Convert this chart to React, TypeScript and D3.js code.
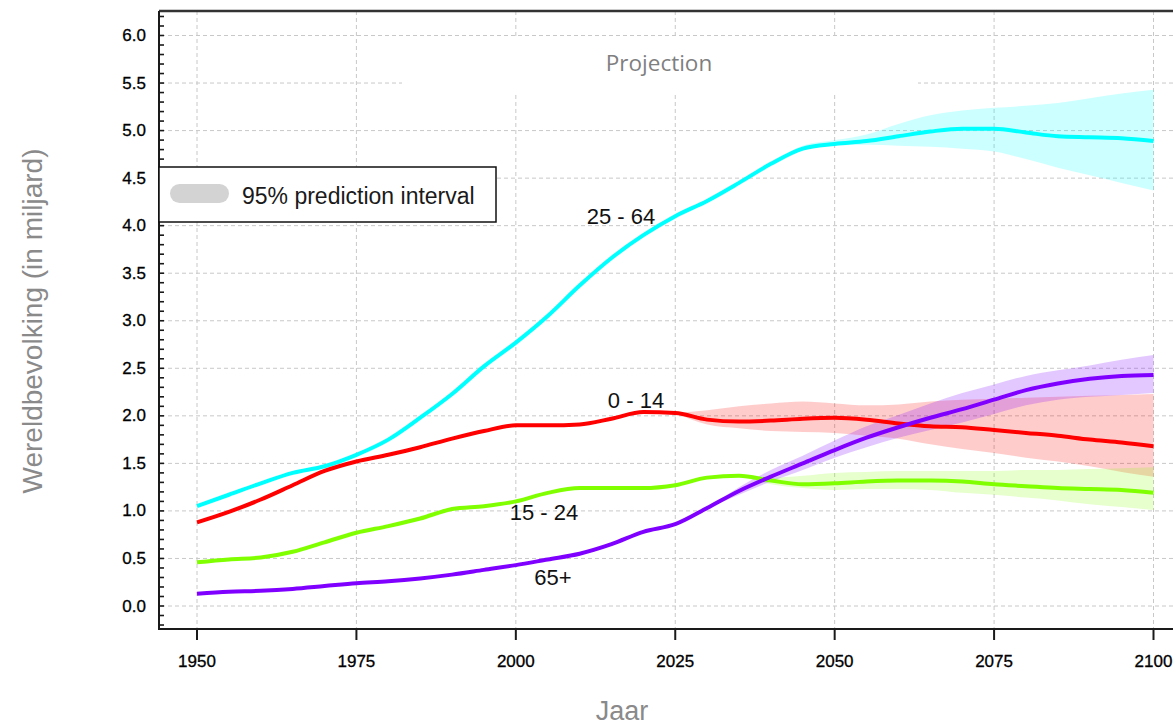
import React from "react";
import * as d3 from "d3";

// Years for the main series (historical + projection)
const years = [
  1950, 1955, 1960, 1965, 1970, 1975, 1980, 1985, 1990, 1995, 2000, 2005, 2010,
  2015, 2020, 2025, 2030, 2035, 2040, 2045, 2050, 2055, 2060, 2065, 2070, 2075,
  2080, 2085, 2090, 2095, 2100,
];

// Population per age group, in billions
const age25to64 = [
  1.05, 1.17, 1.29, 1.4, 1.47, 1.59, 1.75, 1.98, 2.23, 2.52, 2.77, 3.05, 3.37,
  3.66, 3.9, 4.1, 4.26, 4.45, 4.65, 4.81, 4.86, 4.89, 4.94, 4.99, 5.02, 5.02,
  4.98, 4.94, 4.93, 4.92, 4.89,
];
const age0to14 = [
  0.88, 0.99, 1.12, 1.27, 1.42, 1.52, 1.59, 1.67, 1.76, 1.84, 1.9, 1.9, 1.91,
  1.97, 2.04, 2.03, 1.96, 1.94, 1.95, 1.97, 1.98, 1.96, 1.92, 1.89, 1.88, 1.85,
  1.82, 1.79, 1.75, 1.72, 1.68,
];
const age15to24 = [
  0.46, 0.49, 0.51, 0.57, 0.67, 0.77, 0.84, 0.92, 1.02, 1.05, 1.1, 1.19, 1.24,
  1.24, 1.24, 1.27, 1.35, 1.37, 1.32, 1.28, 1.29, 1.31, 1.32, 1.32, 1.31, 1.28,
  1.26, 1.24, 1.23, 1.22, 1.19,
];
const age65plus = [
  0.13, 0.15, 0.16, 0.18, 0.21, 0.24, 0.26, 0.29, 0.33, 0.38, 0.43, 0.49, 0.55,
  0.65, 0.78, 0.86, 1.03, 1.21, 1.36, 1.5, 1.64, 1.77, 1.88, 1.98, 2.07, 2.17,
  2.27, 2.34, 2.39, 2.42, 2.43,
];

// 95% prediction intervals
const cyanBandYears = [2040, 2045, 2050, 2055, 2060, 2065, 2070, 2075, 2080, 2085, 2090, 2095, 2100];
const cyanBandHigh = [4.65, 4.84, 4.9, 4.96, 5.07, 5.16, 5.21, 5.24, 5.26, 5.29, 5.34, 5.39, 5.43];
const cyanBandLow = [4.65, 4.79, 4.84, 4.85, 4.84, 4.83, 4.81, 4.78, 4.7, 4.61, 4.53, 4.45, 4.37];

const redBandYears = [2025, 2030, 2035, 2040, 2045, 2050, 2055, 2060, 2065, 2070, 2075, 2080, 2085, 2090, 2095, 2100];
const redBandHigh = [2.03, 2.06, 2.1, 2.13, 2.15, 2.13, 2.11, 2.12, 2.15, 2.17, 2.18, 2.19, 2.2, 2.21, 2.22, 2.23];
const redBandLow = [2.03, 1.91, 1.87, 1.84, 1.83, 1.82, 1.79, 1.76, 1.7, 1.65, 1.61, 1.56, 1.52, 1.47, 1.41, 1.36];

const greenBandYears = [2035, 2040, 2045, 2050, 2055, 2060, 2065, 2070, 2075, 2080, 2085, 2090, 2095, 2100];
const greenBandHigh = [1.37, 1.35, 1.37, 1.4, 1.41, 1.42, 1.42, 1.42, 1.42, 1.43, 1.43, 1.44, 1.45, 1.46];
const greenBandLow = [1.37, 1.28, 1.24, 1.22, 1.23, 1.23, 1.22, 1.19, 1.17, 1.14, 1.11, 1.07, 1.04, 1.01];

const purpleBandYears = [2030, 2035, 2040, 2045, 2050, 2055, 2060, 2065, 2070, 2075, 2080, 2085, 2090, 2095, 2100];
const purpleBandHigh = [1.03, 1.25, 1.43, 1.58, 1.74, 1.89, 2.01, 2.13, 2.24, 2.33, 2.42, 2.48, 2.53, 2.59, 2.64];
const purpleBandLow = [1.03, 1.17, 1.31, 1.43, 1.56, 1.67, 1.77, 1.85, 1.93, 2.02, 2.11, 2.17, 2.2, 2.22, 2.24];

const xTicks = [1950, 1975, 2000, 2025, 2050, 2075, 2100];
const yTicks = [0, 0.5, 1, 1.5, 2, 2.5, 3, 3.5, 4, 4.5, 5, 5.5, 6];
const yMinorTicks = d3.range(-2, 63).map((i) => i / 10);

const W = 1173;
const H = 727;
const plotLeft = 159;
const plotTop = 11;
const plotBottom = 629;
const plotRight = 1190;

const x = d3.scaleLinear().domain([1950, 2100]).range([197, 1153.5]);
const y = d3.scaleLinear().domain([0, 6]).range([606, 35.5]);

type Series = { name: string; values: number[]; color: string };
const series: Series[] = [
  { name: "25 - 64", values: age25to64, color: "#00ffff" },
  { name: "0 - 14", values: age0to14, color: "#ff0000" },
  { name: "15 - 24", values: age15to24, color: "#80ff00" },
  { name: "65+", values: age65plus, color: "#8000ff" },
];

type Band = { yrs: number[]; hi: number[]; lo: number[]; fill: string; opacity: number };
const bands: Band[] = [
  { yrs: cyanBandYears, hi: cyanBandHigh, lo: cyanBandLow, fill: "#00ffff", opacity: 0.2 },
  { yrs: redBandYears, hi: redBandHigh, lo: redBandLow, fill: "#ff0000", opacity: 0.2 },
  { yrs: greenBandYears, hi: greenBandHigh, lo: greenBandLow, fill: "#80ff00", opacity: 0.2 },
  { yrs: purpleBandYears, hi: purpleBandHigh, lo: purpleBandLow, fill: "#8000ff", opacity: 0.22 },
];

const line = d3
  .line<[number, number]>()
  .x((d) => x(d[0]))
  .y((d) => y(d[1]))
  .curve(d3.curveMonotoneX);

const area = d3
  .area<[number, number, number]>()
  .x((d) => x(d[0]))
  .y0((d) => y(d[2]))
  .y1((d) => y(d[1]))
  .curve(d3.curveMonotoneX);

const tickFont = "'Liberation Sans', Arial, sans-serif";

export default function App() {
  return (
    <svg
      width={W}
      height={H}
      style={{ position: "absolute", left: 0, top: 0, background: "#fff" }}
    >
      <rect x={0} y={0} width={W} height={H} fill="#fff" />

      {/* grid */}
      <g stroke="#c8c8c8" strokeWidth={1} strokeDasharray="4,3">
        {yTicks.map((t) => (
          <line key={"gy" + t} x1={plotLeft + 2} x2={plotRight} y1={y(t)} y2={y(t)} />
        ))}
        {xTicks.map((t) => (
          <line key={"gx" + t} x1={x(t)} x2={x(t)} y1={plotTop} y2={plotBottom} />
        ))}
      </g>

      {/* white label box behind the projection annotation */}
      <rect x={402} y={38} width={516} height={54} fill="#fff" />
      <text
        x={659}
        y={71}
        textAnchor="middle"
        fontFamily="'Open Sans', 'Noto Sans', sans-serif"
        fontSize={22.5}
        fill="#7f7f7f"
      >
        Projection
      </text>

      {/* prediction intervals */}
      {bands.map((b, i) => (
        <path
          key={"band" + i}
          d={area(b.yrs.map((yr, j) => [yr, b.hi[j], b.lo[j]] as [number, number, number])) || ""}
          fill={b.fill}
          fillOpacity={b.opacity}
        />
      ))}

      {/* series lines */}
      {series.map((s) => (
        <path
          key={s.name}
          d={line(years.map((yr, j) => [yr, s.values[j]] as [number, number])) || ""}
          fill="none"
          stroke={s.color}
          strokeWidth={4}
          strokeLinejoin="round"
        />
      ))}

      {/* series labels */}
      <g fontFamily={tickFont} fontSize={22} fill="#111">
        <text x={621} y={224} textAnchor="middle">25 - 64</text>
        <text x={636} y={408} textAnchor="middle">0 - 14</text>
        <text x={544} y={520} textAnchor="middle">15 - 24</text>
        <text x={553} y={585} textAnchor="middle">65+</text>
      </g>

      {/* frame */}
      <line x1={plotLeft} x2={W} y1={plotTop} y2={plotTop} stroke="#333" strokeWidth={2.5} />
      <line x1={plotLeft} x2={plotLeft} y1={plotTop} y2={plotBottom + 1} stroke="#1a1a1a" strokeWidth={2} />
      <line x1={plotLeft} x2={W} y1={plotBottom} y2={plotBottom} stroke="#1a1a1a" strokeWidth={2} />

      {/* y axis ticks */}
      <g stroke="#1a1a1a" strokeWidth={1.6}>
        {yMinorTicks.map((t) => (
          <line key={"ym" + t} x1={plotLeft} x2={plotLeft + 5} y1={y(t)} y2={y(t)} />
        ))}
      </g>
      <g fontFamily={tickFont} fontSize={17} fill="#000" stroke="#000" strokeWidth={0.3} textAnchor="end">
        {yTicks.map((t) => (
          <text key={"yl" + t} x={146} y={y(t)} dominantBaseline="central">
            {d3.format(".1f")(t)}
          </text>
        ))}
      </g>

      {/* x axis ticks */}
      <g stroke="#1a1a1a" strokeWidth={2}>
        {xTicks.map((t) => (
          <line key={"xt" + t} x1={x(t)} x2={x(t)} y1={plotBottom} y2={plotBottom + 11} />
        ))}
      </g>
      <g fontFamily={tickFont} fontSize={17} fill="#000" stroke="#000" strokeWidth={0.3} textAnchor="middle">
        {xTicks.map((t) => (
          <text key={"xl" + t} x={x(t)} y={667}>
            {t}
          </text>
        ))}
      </g>

      {/* legend */}
      <rect x={plotLeft} y={167} width={337} height={55} fill="#fff" stroke="#111" strokeWidth={1.5} />
      <rect x={170} y={184} width={59} height={19} rx={9.5} fill="#d3d3d3" />
      <text x={242} y={204} fontFamily={tickFont} fontSize={23} fill="#1a1a1a">
        95% prediction interval
      </text>

      {/* axis titles */}
      <text
        x={622}
        y={720}
        textAnchor="middle"
        fontFamily={tickFont}
        fontSize={27}
        fill="#8a8a8a"
      >
        Jaar
      </text>
      <text
        transform="translate(42,321) rotate(-90)"
        textAnchor="middle"
        fontFamily={tickFont}
        fontSize={28}
        fill="#8a8a8a"
      >
        Wereldbevolking (in miljard)
      </text>
    </svg>
  );
}
